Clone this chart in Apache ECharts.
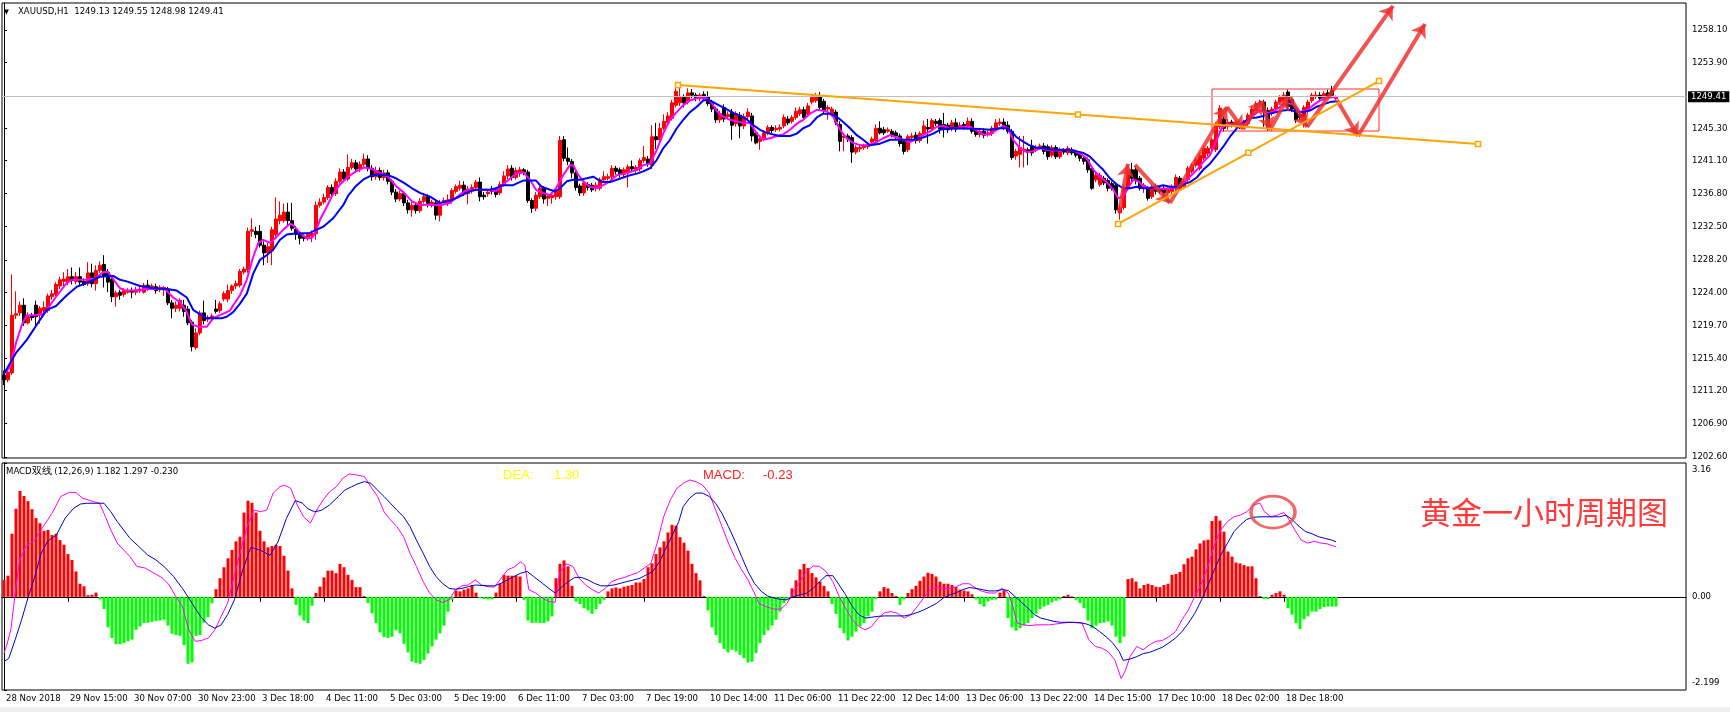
<!DOCTYPE html>
<html>
<head>
<meta charset="utf-8">
<title>XAUUSD H1</title>
<script src="https://cdn.jsdelivr.net/npm/echarts@6/dist/echarts.min.js"></script>
<style>
html, body { margin: 0; padding: 0; background: #fff; }
#chart { width: 1730px; height: 712px; }
</style>
</head>
<body>
<div id="chart"></div>
<script>
// time labels, one every 16 hourly bars
const tickLabels = ['28 Nov 2018', '29 Nov 15:00', '30 Nov 07:00', '30 Nov 23:00', '3 Dec 18:00', '4 Dec 11:00',
  '5 Dec 03:00', '5 Dec 19:00', '6 Dec 11:00', '7 Dec 03:00', '7 Dec 19:00', '10 Dec 14:00', '11 Dec 06:00',
  '11 Dec 22:00', '12 Dec 14:00', '13 Dec 06:00', '13 Dec 22:00', '14 Dec 15:00', '17 Dec 10:00', '18 Dec 02:00',
  '18 Dec 18:00']
const labelStep = 16
const slotCount = 421 // bars plus the empty shift area on the right

// [open, high, low, close]
const candles = [
  [1213.2,1213.8,1211.9,1212.6],[1212.6,1214.0,1212.3,1213.6],[1213.5,1226.3,1213.2,1221.0],[1221.0,1224.1,1220.5,1221.2],
  [1221.3,1222.8,1220.9,1222.3],[1222.3,1223.2,1219.6,1220.0],[1220.0,1221.4,1219.8,1220.8],[1220.9,1221.3,1220.3,1220.7],
  [1222.3,1222.9,1219.5,1220.8],[1221.0,1222.2,1219.9,1221.9],[1221.6,1222.8,1220.9,1222.0],[1221.6,1223.8,1221.3,1223.5],
  [1223.4,1224.3,1223.0,1223.8],[1223.7,1225.3,1223.5,1225.0],[1224.8,1226.0,1224.4,1225.6],[1225.4,1226.6,1224.8,1225.7],
  [1225.3,1227.0,1224.9,1226.0],[1226.0,1227.2,1225.0,1225.5],[1225.4,1226.6,1225.0,1226.0],[1226.0,1227.2,1224.9,1225.3],
  [1225.4,1225.8,1224.8,1225.0],[1225.1,1227.9,1224.8,1226.5],[1226.5,1227.7,1224.6,1225.1],[1225.1,1227.5,1224.2,1226.8],
  [1226.8,1228.0,1226.5,1227.5],[1227.6,1228.8,1224.6,1226.1],[1226.6,1227.0,1224.0,1225.3],[1225.7,1226.0,1222.7,1223.4],
  [1223.4,1224.2,1222.1,1223.9],[1224.0,1224.3,1223.0,1223.6],[1223.7,1224.5,1223.4,1224.2],[1224.0,1224.5,1223.8,1224.2],
  [1224.2,1224.6,1223.2,1224.0],[1224.0,1224.7,1223.6,1224.3],[1224.2,1224.7,1223.9,1224.4],[1224.0,1225.2,1223.8,1224.9],
  [1224.9,1225.6,1224.2,1224.5],[1224.6,1225.1,1224.3,1224.8],[1224.7,1225.1,1223.8,1224.2],[1224.3,1224.9,1224.0,1224.6],
  [1224.3,1224.8,1223.5,1224.6],[1224.4,1224.7,1222.3,1222.6],[1222.6,1223.0,1220.6,1221.9],[1221.9,1222.8,1221.4,1222.3],
  [1221.9,1223.2,1221.5,1222.9],[1222.3,1223.0,1220.8,1221.5],[1221.8,1222.2,1219.7,1220.0],[1220.1,1220.4,1216.3,1216.9],
  [1216.8,1219.3,1216.5,1218.7],[1218.7,1221.6,1218.4,1221.3],[1221.3,1222.9,1219.8,1220.3],[1220.5,1221.0,1220.1,1220.7],
  [1220.6,1221.2,1220.3,1220.9],[1221.8,1223.0,1221.2,1221.5],[1221.6,1222.8,1221.3,1222.5],[1223.1,1224.1,1222.8,1223.8],
  [1223.1,1225.0,1222.7,1224.2],[1224.2,1225.0,1223.8,1224.8],[1224.8,1225.5,1224.4,1225.1],[1224.9,1227.0,1224.6,1226.7],
  [1226.6,1227.3,1226.3,1227.0],[1226.9,1232.4,1226.5,1231.9],[1231.9,1233.6,1231.2,1232.1],[1231.9,1232.5,1231.0,1231.5],
  [1231.9,1232.7,1229.8,1230.1],[1230.1,1230.6,1227.5,1229.1],[1229.1,1230.4,1227.8,1229.9],[1229.4,1232.5,1227.5,1232.1],
  [1231.5,1236.3,1231.2,1233.5],[1233.3,1235.8,1232.8,1234.0],[1233.3,1235.5,1233.0,1234.4],[1234.4,1235.6,1232.6,1233.3],
  [1233.3,1235.6,1232.0,1232.3],[1232.2,1232.6,1230.8,1231.5],[1231.5,1231.8,1230.2,1231.0],[1231.2,1231.5,1230.6,1231.0],
  [1231.0,1231.8,1230.7,1231.5],[1231.3,1232.0,1230.5,1231.6],[1231.6,1235.8,1230.8,1235.3],[1235.3,1236.2,1235.0,1235.7],
  [1235.7,1236.8,1235.4,1236.3],[1236.3,1237.9,1236.0,1237.6],[1237.6,1238.0,1236.4,1236.8],[1236.8,1238.8,1236.5,1238.4],
  [1238.4,1240.1,1238.1,1239.6],[1239.6,1240.0,1238.3,1238.7],[1238.7,1241.9,1238.4,1240.2],[1240.2,1241.3,1239.9,1240.8],
  [1240.8,1241.2,1239.5,1240.0],[1240.0,1241.0,1239.6,1240.6],[1240.6,1242.0,1240.3,1241.3],[1241.3,1241.8,1239.7,1240.1],
  [1240.1,1240.5,1238.5,1239.0],[1239.0,1240.3,1238.6,1239.8],[1239.8,1240.2,1238.5,1238.9],[1238.9,1239.9,1238.5,1239.5],
  [1239.5,1239.9,1238.0,1238.4],[1238.4,1238.7,1236.6,1237.0],[1237.0,1237.4,1235.7,1236.1],[1236.1,1237.2,1235.8,1236.8],
  [1236.8,1237.1,1235.2,1235.6],[1235.6,1236.0,1234.2,1234.7],[1234.7,1235.7,1233.8,1235.3],[1235.3,1235.7,1234.2,1234.6],
  [1234.6,1236.2,1234.3,1235.8],[1235.8,1236.9,1235.5,1236.4],[1236.4,1236.7,1235.0,1235.5],[1235.3,1236.0,1235.0,1235.7],
  [1235.6,1236.0,1233.4,1234.0],[1234.0,1236.0,1233.2,1235.6],[1235.6,1236.3,1235.3,1235.9],[1235.5,1236.7,1235.2,1236.0],
  [1235.9,1237.5,1235.5,1237.2],[1237.1,1238.0,1236.8,1237.7],[1237.5,1238.5,1237.2,1237.9],[1237.9,1238.4,1236.5,1236.8],
  [1236.8,1237.8,1235.4,1237.4],[1237.2,1238.0,1236.8,1237.6],[1237.6,1238.6,1237.3,1238.3],[1238.3,1238.9,1235.8,1236.4],
  [1236.6,1237.0,1236.0,1236.4],[1236.8,1237.3,1236.4,1237.0],[1237.4,1237.8,1236.7,1237.1],[1237.3,1237.6,1236.3,1236.7],
  [1236.9,1238.4,1236.6,1238.0],[1238.0,1239.7,1237.7,1239.1],[1239.1,1240.5,1238.7,1240.0],[1240.1,1240.5,1238.5,1238.9],
  [1238.9,1240.2,1238.6,1239.8],[1239.4,1240.3,1239.0,1239.9],[1239.9,1240.1,1239.2,1239.6],[1239.6,1239.9,1235.6,1235.9],
  [1235.9,1236.2,1234.3,1234.9],[1234.9,1237.0,1234.5,1236.6],[1236.4,1237.8,1236.1,1237.5],[1237.5,1237.8,1235.5,1236.1],
  [1236.2,1236.8,1235.2,1236.5],[1236.3,1237.0,1235.5,1236.6],[1236.4,1237.4,1236.0,1237.1],[1236.4,1244.3,1236.1,1243.7],
  [1243.8,1244.3,1241.0,1241.4],[1241.4,1242.8,1240.5,1241.0],[1241.0,1241.3,1238.8,1239.5],[1239.5,1239.9,1237.2,1237.6],
  [1237.8,1238.1,1236.5,1236.9],[1236.9,1238.5,1236.5,1238.2],[1238.0,1238.3,1237.2,1237.6],[1237.9,1238.2,1237.0,1237.3],
  [1237.5,1238.3,1237.1,1237.9],[1237.5,1238.9,1237.2,1238.6],[1238.6,1239.7,1238.3,1239.0],[1238.8,1239.4,1238.5,1239.0],
  [1239.0,1240.5,1238.7,1240.1],[1240.1,1240.4,1239.3,1239.7],[1239.9,1240.2,1238.9,1239.3],[1239.3,1240.2,1238.9,1239.9],
  [1239.5,1240.6,1237.6,1240.3],[1240.3,1241.1,1239.7,1240.0],[1239.8,1240.5,1239.5,1240.2],[1240.0,1241.4,1239.7,1241.1],
  [1241.1,1243.0,1240.8,1241.5],[1241.3,1241.7,1240.3,1240.7],[1240.5,1245.7,1240.0,1244.2],[1244.2,1246.0,1242.6,1243.8],
  [1243.8,1246.0,1243.5,1245.3],[1245.3,1247.1,1245.0,1246.2],[1246.0,1247.4,1245.7,1246.9],[1246.6,1249.0,1246.3,1248.6],
  [1248.3,1250.5,1248.0,1250.1],[1248.6,1251.3,1248.2,1249.3],[1249.3,1249.7,1248.0,1248.6],[1248.8,1250.5,1248.4,1249.9],
  [1249.9,1250.4,1249.2,1249.6],[1249.6,1249.9,1248.8,1249.2],[1249.2,1249.9,1248.8,1249.6],[1249.7,1250.1,1248.9,1249.3],
  [1249.4,1250.1,1248.2,1248.5],[1248.6,1249.0,1247.4,1247.8],[1247.8,1248.1,1246.0,1246.4],[1246.4,1247.6,1246.0,1247.2],
  [1248.0,1248.4,1246.1,1246.5],[1246.8,1247.5,1246.4,1247.1],[1247.4,1247.8,1243.8,1245.7],[1245.9,1247.5,1245.5,1247.2],
  [1247.0,1247.4,1244.0,1245.6],[1245.6,1247.2,1245.2,1246.8],[1246.8,1247.9,1246.5,1247.4],[1246.9,1247.3,1243.6,1244.3],
  [1244.7,1245.0,1243.2,1243.4],[1243.6,1244.2,1242.5,1243.9],[1243.9,1245.0,1243.6,1244.7],[1244.7,1245.7,1244.4,1245.4],
  [1245.4,1245.7,1244.7,1245.0],[1245.1,1245.7,1244.8,1245.3],[1245.2,1245.8,1244.9,1245.4],[1245.6,1247.1,1245.3,1246.7],
  [1246.5,1246.9,1245.7,1246.0],[1246.2,1247.0,1245.9,1246.7],[1246.7,1248.0,1246.4,1247.5],[1247.2,1248.1,1246.9,1247.7],
  [1247.7,1248.1,1246.4,1246.7],[1247.1,1248.6,1246.8,1248.2],[1248.7,1249.7,1248.4,1249.3],[1248.9,1249.9,1248.6,1249.4],
  [1249.4,1250.0,1247.6,1248.0],[1248.8,1249.1,1247.2,1247.6],[1247.8,1248.3,1246.4,1248.0],[1247.2,1248.1,1246.9,1247.8],
  [1247.4,1247.7,1245.7,1246.1],[1245.8,1246.2,1242.3,1243.6],[1244.1,1244.6,1242.3,1244.3],[1244.3,1244.6,1243.5,1243.9],
  [1244.1,1244.4,1240.8,1242.2],[1242.2,1243.1,1241.9,1242.8],[1242.6,1243.1,1242.2,1242.8],[1242.8,1243.3,1242.5,1243.0],
  [1242.9,1243.5,1242.6,1243.2],[1243.5,1244.2,1243.2,1243.9],[1243.7,1245.8,1243.4,1245.3],[1245.3,1246.2,1244.5,1244.7],
  [1245.1,1245.5,1244.4,1244.7],[1244.9,1245.4,1244.7,1245.1],[1244.9,1245.2,1244.1,1244.4],[1244.7,1245.0,1243.9,1244.3],
  [1244.3,1244.6,1242.9,1243.3],[1243.6,1243.9,1241.9,1242.3],[1242.5,1244.5,1242.2,1244.2],[1244.1,1244.7,1243.8,1244.3],
  [1244.4,1244.8,1243.3,1243.7],[1243.7,1244.9,1243.4,1244.6],[1244.6,1246.3,1244.3,1245.6],[1245.4,1246.5,1243.3,1245.2],
  [1245.2,1246.6,1244.9,1246.3],[1246.2,1246.5,1245.6,1245.9],[1246.3,1246.6,1244.6,1245.2],[1245.8,1247.3,1244.1,1245.2],
  [1245.7,1246.0,1244.7,1245.1],[1245.2,1246.4,1244.9,1246.0],[1246.0,1246.6,1244.8,1245.2],[1245.5,1246.1,1245.2,1245.7],
  [1245.8,1246.1,1245.1,1245.4],[1245.6,1246.7,1245.3,1246.2],[1246.2,1246.6,1244.6,1244.9],[1245.0,1245.3,1244.2,1244.5],
  [1244.5,1245.2,1244.1,1244.9],[1244.9,1245.3,1244.0,1244.4],[1244.5,1245.0,1244.2,1244.7],[1244.6,1245.6,1244.3,1245.3],
  [1245.3,1246.5,1245.0,1246.0],[1245.9,1246.6,1245.6,1246.1],[1246.1,1246.6,1245.1,1245.5],[1245.7,1246.2,1244.6,1244.9],
  [1244.9,1245.2,1241.2,1241.5],[1241.7,1242.6,1241.2,1242.3],[1241.9,1244.3,1240.2,1242.8],[1242.4,1244.3,1240.2,1242.6],
  [1242.5,1242.8,1240.5,1242.3],[1243.0,1243.8,1241.7,1242.1],[1242.5,1243.1,1242.2,1242.8],[1242.8,1243.3,1242.5,1243.0],
  [1243.0,1243.4,1241.9,1242.3],[1242.9,1243.2,1241.2,1241.6],[1241.8,1243.1,1241.5,1242.8],[1242.8,1243.1,1241.3,1241.6],
  [1241.6,1242.8,1241.3,1242.5],[1242.4,1242.7,1241.9,1242.2],[1242.1,1243.0,1241.8,1242.7],[1242.5,1242.8,1241.8,1242.1],
  [1242.2,1242.5,1241.5,1241.8],[1242.0,1242.3,1241.0,1241.4],[1241.4,1241.7,1240.6,1241.0],[1241.2,1241.5,1239.5,1239.9],
  [1240.1,1240.4,1237.3,1237.5],[1238.6,1239.5,1238.3,1239.2],[1238.0,1239.5,1237.7,1239.2],[1238.8,1239.1,1237.9,1238.2],
  [1238.5,1238.8,1237.1,1237.5],[1238.1,1238.4,1237.2,1237.5],[1237.9,1238.2,1234.2,1234.7],[1234.3,1235.4,1233.4,1235.0],
  [1235.0,1238.0,1234.7,1237.6],[1237.5,1240.3,1237.2,1239.9],[1239.9,1240.8,1238.4,1238.8],[1239.9,1240.4,1238.0,1238.6],
  [1238.8,1239.1,1237.2,1237.5],[1237.7,1238.2,1236.9,1237.9],[1237.5,1237.8,1235.9,1236.2],[1236.4,1238.0,1236.1,1237.7],
  [1237.8,1238.1,1236.7,1237.1],[1237.5,1237.8,1236.8,1237.1],[1237.5,1237.8,1236.5,1236.9],[1236.9,1237.6,1236.6,1237.3],
  [1237.1,1238.0,1236.7,1237.7],[1237.5,1239.3,1237.2,1238.9],[1238.8,1239.1,1237.2,1237.5],[1237.7,1238.7,1237.4,1238.4],
  [1238.6,1240.4,1238.3,1240.1],[1239.7,1240.8,1239.4,1240.5],[1240.5,1241.5,1240.2,1241.2],[1240.1,1242.1,1239.8,1241.8],
  [1241.4,1243.1,1241.1,1242.7],[1242.0,1243.0,1241.7,1242.7],[1242.7,1244.1,1242.4,1243.8],[1242.5,1246.1,1242.2,1245.7],
  [1245.5,1248.3,1245.2,1247.9],[1246.5,1246.8,1244.9,1245.3],[1245.5,1246.5,1245.1,1246.1],[1246.1,1246.4,1245.4,1245.7],
  [1245.7,1246.4,1245.4,1246.1],[1245.9,1246.2,1245.2,1245.5],[1245.5,1246.4,1245.2,1246.1],[1245.9,1247.3,1245.6,1247.0],
  [1247.0,1248.1,1246.7,1247.8],[1247.6,1248.8,1247.3,1248.5],[1248.3,1249.0,1248.0,1248.7],[1248.7,1249.0,1245.5,1247.4],
  [1247.6,1248.0,1245.0,1245.4],[1247.2,1248.1,1246.9,1247.8],[1247.8,1249.0,1247.5,1248.7],[1248.7,1249.6,1248.4,1249.3],
  [1248.9,1250.0,1248.6,1249.6],[1250.0,1250.3,1247.7,1248.1],[1249.0,1249.3,1247.4,1247.8],[1247.9,1248.2,1246.0,1246.4],
  [1247.1,1247.4,1246.3,1246.7],[1245.9,1248.3,1245.4,1248.0],[1247.6,1249.0,1247.2,1248.7],[1248.9,1249.9,1248.6,1249.6],
  [1249.4,1250.1,1249.1,1249.6],[1249.6,1250.0,1248.9,1249.2],[1249.2,1250.1,1248.9,1249.8],[1249.9,1250.3,1249.1,1249.4],
  [1250.2,1250.8,1249.2,1249.6],[1249.13,1249.55,1248.98,1249.41]
]

// moving averages on the price pane, [bar, price]
const maFast = [
  [0,1213.5],[1.5,1214.2],[3,1217.4],[4.5,1219.8],[5.7,1221.0],[8,1221.0],[10,1221.2],[10.7,1221.7],[13,1223.4],
  [15.7,1225.2],[17,1225.6],[20.7,1225.6],[23,1225.8],[24.8,1226.6],[26,1226.6],[27.3,1225.7],[29,1224.5],[30.5,1224.2],
  [34,1224.2],[35,1224.4],[38,1224.4],[40,1224.5],[42.3,1223.3],[44,1222.7],[45.7,1221.4],[47,1219.8],[48.6,1219.5],
  [50.7,1219.5],[52.3,1220.6],[54,1221.0],[56.5,1221.6],[57.3,1222.3],[59,1223.6],[60.7,1225.6],[62.3,1228.6],
  [63.6,1230.4],[64.8,1230.8],[66.5,1230.4],[68,1231.1],[69.8,1232.1],[71.5,1232.9],[72.3,1232.7],[74,1231.7],
  [75.7,1231.0],[76.9,1231.0],[77.8,1231.7],[79,1233.4],[80.7,1235.1],[82,1236.5],[84,1238.0],[86,1239.0],[88,1239.7],
  [90,1240.2],[92,1240.0],[94,1239.5],[96,1239.0],[98,1237.8],[100,1236.9],[102,1235.8],[104,1235.3],[106.5,1235.4],
  [109,1235.3],[111.5,1235.6],[113.8,1236.6],[115.7,1237.3],[118,1237.3],[120.7,1237.3],[123,1237.1],[125.7,1238.4],
  [128,1239.4],[129.8,1239.6],[131.5,1238.6],[133,1237.3],[134.8,1236.9],[136.5,1236.6],[138,1237.5],[139.8,1239.2],
  [141.5,1240.5],[142.3,1240.5],[143.6,1239.2],[144.8,1238.4],[146.5,1237.7],[148.2,1237.5],[149.8,1237.9],[151.5,1238.4],
  [153.2,1239.2],[154.8,1239.4],[156.5,1239.6],[158.2,1239.9],[159.8,1240.5],[161.5,1240.7],[163.2,1242.5],[164.8,1244.6],
  [166.5,1246.4],[168.2,1247.4],[169.8,1248.3],[171.5,1248.9],[173.2,1249.2],[175.7,1249.2],[176.9,1248.6],[178.2,1247.5],
  [179.8,1246.8],[181.5,1246.4],[183.2,1246.2],[184.8,1246.0],[186.5,1246.0],[188.2,1244.6],[189.8,1243.8],[191.5,1244.0],
  [193.2,1244.3],[194.8,1244.5],[196.5,1245.1],[198.2,1245.9],[199.8,1246.4],[201.5,1247.2],[203.2,1247.7],[204.4,1247.6],
  [205.7,1247.5],[207.3,1246.8],[209,1245.1],[210.7,1244.0],[212.3,1243.4],[214,1243.1],[215.7,1243.1],[217.3,1243.3],
  [218.2,1243.5],[219.8,1244.0],[221.5,1244.4],[223.2,1244.1],[224.8,1243.8],[226.5,1243.5],[228.2,1243.9],[229.8,1244.4],
  [231.5,1244.9],[233.2,1245.5],[234.8,1245.6],[236.5,1245.3],[238.2,1245.3],[239.8,1245.5],[241.5,1245.5],[243.2,1245.0],
  [244.8,1244.5],[246.5,1244.5],[248.2,1245.1],[249.8,1245.6],[251,1245.3],[252.3,1243.8],[254,1242.7],[255.7,1242.2],
  [257.3,1242.3],[259,1242.7],[260.7,1242.5],[262.3,1242.4],[264,1242.4],[265.7,1242.5],[267.3,1242.4],[269,1242.0],
  [270.7,1241.4],[272.3,1239.9],[274,1239.0],[275.7,1238.3],[277.3,1237.3],[278.6,1236.2],[279.8,1236.4],[281,1237.5],
  [282.3,1238.6],[283.6,1238.4],[284.8,1237.8],[286.5,1237.5],[288.2,1237.5],[289.8,1237.4],[291.5,1237.5],[293.2,1237.7],
  [294.8,1238.1],[296.5,1239.0],[298.2,1239.9],[299.8,1240.9],[301.5,1241.8],[303.2,1243.8],[304.4,1245.3],[305.7,1245.9],
  [307.3,1245.7],[309,1245.5],[310.7,1246.1],[312.3,1247.0],[314,1247.6],[315.7,1247.3],[317.3,1247.4],[319,1248.1],
  [320.7,1248.6],[322.3,1248.4],[324,1247.4],[325.7,1247.6],[327.3,1248.3],[329,1248.9],[330.7,1249.2],[332.3,1249.4],
  [333.5,1249.3]
]
const maSlow = [
  [0,1213.4],[1,1214.3],[3,1216.1],[5.7,1217.8],[9,1220.4],[10.7,1221.7],[13,1222.2],[15.7,1223.6],[18.2,1224.7],
  [20.7,1225.2],[24,1226.0],[27.3,1226.1],[29,1225.6],[30.7,1225.4],[34,1224.8],[37.3,1224.5],[40.7,1224.4],[43.2,1224.2],
  [45.7,1223.3],[47.3,1221.7],[49,1221.1],[50.7,1220.6],[54.4,1220.6],[55.7,1220.8],[57.3,1221.4],[59,1222.5],[60.7,1223.8],
  [62.3,1226.4],[64,1228.2],[65.7,1228.8],[67.3,1229.5],[69,1230.8],[70.7,1231.5],[72.3,1231.6],[76.5,1231.7],[78,1232.1],
  [79.8,1232.5],[82.3,1233.6],[84.8,1235.3],[86,1236.5],[88,1237.8],[90,1238.7],[92,1239.2],[94,1239.3],[96,1239.2],
  [98,1238.8],[100,1238.2],[102,1237.5],[104,1236.9],[106.5,1236.4],[109,1235.6],[111.5,1235.9],[113.8,1236.4],
  [116.5,1237.1],[118.2,1237.3],[121.5,1237.3],[123,1237.5],[124.8,1237.9],[127.3,1237.9],[128.5,1238.2],[129.8,1238.5],
  [133,1238.5],[134.4,1237.7],[136.5,1237.3],[137.8,1237.1],[139,1237.5],[140.7,1238.4],[142.3,1238.6],[144,1238.6],
  [145.7,1238.8],[147.3,1239.0],[148.6,1238.6],[149.8,1238.3],[151.5,1238.3],[153.2,1238.6],[154.8,1238.9],[156.5,1239.2],
  [158.2,1239.4],[159.8,1239.7],[161.5,1240.1],[163.2,1241.2],[164.8,1242.7],[166.5,1243.8],[168.2,1245.3],[169.8,1246.4],
  [171.5,1247.4],[173.2,1248.1],[174.8,1248.9],[176.1,1249.0],[177.3,1248.7],[179,1248.2],[180.6,1247.8],[182.3,1247.3],
  [184,1246.9],[185.6,1246.5],[187.3,1245.7],[189,1245.1],[190.7,1244.7],[192.3,1244.5],[194,1244.3],[196.5,1244.3],
  [198.2,1244.6],[199.8,1245.3],[201.5,1245.7],[203.2,1246.7],[204.8,1247.2],[206.5,1247.2],[208.2,1246.8],[209.8,1246.1],
  [211.5,1245.3],[213.2,1244.4],[214.8,1243.8],[216.5,1243.1],[219,1243.3],[221.5,1243.8],[224.8,1243.8],[227.3,1243.8],
  [229.8,1244.1],[232.3,1244.6],[234,1245.1],[236.5,1245.3],[244,1245.2],[246.5,1245.1],[249,1245.3],[250.7,1245.3],
  [251.9,1244.9],[253,1244.2],[254.7,1243.6],[256.3,1243.1],[258,1242.8],[259.7,1242.7],[262.2,1242.5],[264.7,1242.5],
  [267.3,1242.4],[269.8,1242.1],[271.5,1241.6],[273.2,1240.7],[274.8,1239.9],[276.5,1238.8],[278.2,1238.0],[279.8,1237.5],
  [281.5,1237.5],[283.2,1237.7],[284.8,1237.5],[286.5,1237.5],[288.2,1237.7],[289.8,1237.9],[291.5,1237.7],[293.2,1237.7],
  [294.8,1238.0],[296.5,1238.3],[298.2,1238.9],[299.8,1239.9],[301.5,1240.7],[303.2,1241.8],[304.8,1242.9],[306.5,1244.2],
  [308.2,1245.3],[309.8,1246.1],[311.5,1246.6],[313.2,1246.7],[314.8,1246.9],[316.5,1247.2],[318.2,1247.4],[319.8,1247.6],
  [321.5,1247.7],[323.2,1247.4],[324.8,1247.4],[326.5,1247.6],[328.2,1248.1],[329.8,1248.4],[331.5,1248.7],[333.2,1248.8]
]

// MACD pane: histogram per bar, DIF / DEA lines as [bar, value]
const macdHist = [
  0.40,0.50,1.49,2.08,2.50,2.38,2.26,2.07,1.86,1.74, 1.56,1.58,1.46,1.49,1.34,1.23,1.01,0.87,0.60,0.31,
  0.25,0.04,0.05,0.10,-0.06,-0.29,-0.72,-0.97,-1.12,-1.12, -1.09,-1.05,-1.01,-0.78,-0.70,-0.62,-0.61,-0.59,-0.57,-0.56,
  -0.54,-0.68,-0.87,-0.90,-0.92,-1.14,-1.58,-1.55,-0.92,-0.90, -0.61,-0.48,-0.15,0.18,0.44,0.70,0.91,1.11,1.31,1.42,
  1.99,2.27,2.22,1.99,1.56,1.31,1.17,1.20,1.23,1.20, 0.97,0.62,0.20,-0.19,-0.44,-0.56,-0.62,-0.21,0.09,0.24,
  0.46,0.62,0.62,0.56,0.78,0.70,0.52,0.40,0.23,0.23, 0.02,-0.15,-0.39,-0.62,-0.84,-0.95,-0.97,-0.94,-0.79,-0.86,
  -1.11,-1.31,-1.53,-1.56,-1.58,-1.49,-1.34,-1.17,-1.01,-0.86, -0.68,-0.35,-0.07,0.15,0.13,0.17,0.20,0.28,0.10,-0.03,
  -0.05,-0.06,-0.06,0.10,0.31,0.52,0.50,0.50,0.50,0.48, -0.07,-0.56,-0.62,-0.61,-0.62,-0.62,-0.58,-0.46,0.44,0.78,
  0.86,0.72,0.26,-0.11,-0.17,-0.27,-0.32,-0.40,-0.29,-0.17, -0.07,0.13,0.20,0.22,0.20,0.24,0.26,0.28,0.34,0.34,
  0.42,0.70,0.79,1.01,1.17,1.31,1.52,1.70,1.68,1.41, 1.28,1.09,0.78,0.56,0.39,0.02,-0.32,-0.72,-0.90,-1.09,
  -1.23,-1.31,-1.25,-1.29,-1.37,-1.45,-1.55,-1.53,-1.33,-1.09, -0.90,-0.79,-0.68,-0.54,-0.35,-0.15,-0.05,0.20,0.39,0.65,
  0.78,0.68,0.56,0.46,0.36,0.26,0.13,-0.17,-0.40,-0.74, -0.86,-1.03,-0.94,-0.82,-0.70,-0.62,-0.46,-0.35,-0.05,0.13,
  0.23,0.20,0.09,0.02,-0.19,-0.06,0.09,0.18,0.26,0.38, 0.48,0.57,0.54,0.48,0.36,0.31,0.31,0.28,0.23,0.17,
  0.15,0.13,0.06,-0.06,-0.17,-0.23,-0.11,-0.07,-0.06,0.10, 0.15,-0.50,-0.72,-0.80,-0.74,-0.68,-0.62,-0.50,-0.40,-0.29,
  -0.23,-0.19,-0.13,-0.09,-0.06,0.02,0.05,0.01,-0.07,-0.15, -0.27,-0.56,-0.74,-0.68,-0.62,-0.61,-0.58,-0.68,-0.94,-1.09,
  -0.94,0.42,0.44,0.36,0.20,0.28,0.31,0.28,0.24,0.23, 0.28,0.31,0.52,0.54,0.59,0.77,0.91,0.95,1.12,1.26,
  1.33,1.35,1.79,1.91,1.80,1.54,1.07,0.95,0.81,0.79, 0.75,0.72,0.72,0.44,0.02,-0.05,-0.05,0.05,0.09,0.13,
  0.05,-0.27,-0.42,-0.62,-0.76,-0.53,-0.46,-0.35,-0.35,-0.29, -0.24,-0.23,-0.23,-0.23
]
const difLine = [
  [0,-1.33],[0.6,-1.17],[1.7,-0.78],[2.8,0.09],[3.9,0.87],[5.5,1.19],[7.7,1.34],[9.8,1.66],[12,1.97],[14.2,2.37],
  [16.4,2.47],[18,2.46],[19.6,2.33],[20.7,2.30],[22.3,2.25],[23.9,2.21],[25,1.97],[26.7,1.58],[28.3,1.27],[29.9,1.11],
  [31.5,0.95],[33.2,0.72],[35.3,0.68],[37.5,0.56],[39.7,0.44],[41.3,0.28],[42.9,0.01],[44.6,-0.23],[46.2,-0.78],
  [47.8,-1.05],[49.4,-1.03],[51.1,-0.97],[52.7,-0.78],[54.3,-0.46],[55.9,-0.15],[57.6,0.52],[59.2,1.11],[60.8,1.66],
  [62.5,2.05],[64.1,2.01],[65.7,2.05],[67.3,2.45],[69,2.60],[70,2.64],[71.7,2.56],[73.3,2.17],[74.9,1.89],[76.6,1.74],
  [78.2,2.05],[79.8,2.29],[81.4,2.48],[83.1,2.60],[84.7,2.80],[86.3,2.90],[88,2.88],[90.1,2.84],[91.7,2.60],[93.4,2.37],
  [95,2.01],[96.6,1.82],[98.2,1.66],[99.9,1.42],[101.5,1.03],[103.1,0.72],[104.8,0.36],[106.4,0.09],[108,-0.07],
  [109.6,-0.13],[111.3,-0.07],[112.9,0.17],[114.5,0.26],[116.1,0.28],[117.8,0.40],[119.4,0.28],[121,0.24],[122.6,0.23],
  [124.3,0.44],[125.9,0.64],[127.5,0.70],[129.2,0.83],[130.2,0.75],[131.2,0.17],[132.9,0.09],[134.6,-0.03],[136.2,-0.11],
  [137.8,-0.13],[138.9,0.56],[140.5,0.78],[142.2,0.72],[143.8,0.44],[145.4,0.28],[147.1,0.17],[148.7,0.09],[150.3,0.20],
  [151.9,0.36],[153.6,0.42],[155.2,0.46],[156.8,0.52],[158.4,0.57],[160.1,0.68],[161.7,0.79],[163.3,1.27],[164.9,1.89],
  [166.6,2.29],[168.2,2.56],[169.8,2.68],[171.4,2.76],[173,2.72],[174.6,2.64],[176.3,2.45],[177.9,2.05],[179.5,1.66],
  [181.1,1.27],[182.8,0.91],[184.4,0.64],[186,0.40],[187.6,0.09],[188.7,-0.15],[190.4,-0.23],[192.5,-0.29],[194.2,-0.29],
  [195.8,-0.15],[197.4,0.13],[199,0.36],[200.7,0.60],[202.3,0.73],[203.9,0.72],[205.5,0.60],[207.2,0.36],[208.8,0.01],
  [210.4,-0.27],[212.1,-0.54],[213.7,-0.70],[215.3,-0.78],[216.9,-0.70],[218.6,-0.50],[220.2,-0.37],[221.8,-0.35],
  [223.4,-0.39],[225.1,-0.50],[226.7,-0.42],[228.3,-0.23],[229.9,-0.03],[231.6,0.17],[233.2,0.23],[234.8,0.20],
  [236.5,0.20],[238.1,0.24],[239.7,0.31],[241.3,0.31],[243,0.20],[244.6,0.13],[246.2,0.09],[247.8,0.09],[249.5,0.20],
  [251.1,0.09],[252.2,-0.23],[253.3,-0.62],[254.9,-0.66],[256.5,-0.68],[258.1,-0.66],[261.4,-0.66],[263,-0.64],
  [264.7,-0.62],[266.3,-0.60],[267.9,-0.61],[269.5,-0.62],[271.2,-1.01],[272.8,-1.17],[274.4,-1.21],[276,-1.29],
  [277.7,-1.49],[279.3,-1.93],[280.4,-1.73],[281.5,-1.41],[283.2,-1.17],[284.8,-1.25],[286.4,-1.13],[288,-1.05],
  [289.6,-1.03],[291.2,-0.94],[292.9,-0.82],[294.5,-0.54],[296.1,-0.31],[297.7,0.01],[299.4,0.32],[301,0.72],[302.6,1.23],
  [304.2,1.58],[305.9,1.78],[307.5,1.89],[309.1,1.93],[310.7,2.01],[312.4,2.17],[314,2.21],[315.1,2.01],[316.7,1.89],
  [318.3,1.93],[320,1.99],[321,1.86],[322.7,1.58],[324.3,1.34],[325.9,1.27],[327.6,1.31],[329.2,1.27],[330.8,1.25],
  [332.4,1.20],[333,1.18]
]
const deaLine = [
  [0,-1.53],[1.2,-1.45],[2.8,-1.01],[4.4,-0.54],[6.1,0.01],[7.7,0.48],[9.3,1.03],[10.9,1.31],[13.1,1.46],[15.3,1.86],
  [17.4,2.09],[19.1,2.19],[20.7,2.21],[25,2.21],[26.7,2.01],[28.3,1.78],[29.9,1.58],[31.5,1.38],[33.7,1.19],[35.9,0.99],
  [38,0.87],[40.2,0.70],[42.4,0.48],[44.6,0.20],[46.2,-0.03],[47.8,-0.27],[49.4,-0.50],[51.1,-0.66],[52.7,-0.74],
  [54.3,-0.66],[55.9,-0.42],[57.6,-0.07],[59.7,0.64],[61.7,1.17],[64.1,1.10],[66.5,0.98],[68.5,1.30],[70.6,1.85],
  [72.8,2.27],[74.5,2.22],[76,2.08],[77.6,2.01],[79.3,2.04],[81.4,2.17],[83.6,2.37],[85.2,2.52],[86.9,2.60],[88.5,2.67],
  [90.1,2.72],[91.7,2.68],[93.4,2.52],[95,2.37],[96.6,2.21],[98.2,2.05],[99.9,1.89],[101.5,1.66],[103.1,1.34],
  [104.8,1.03],[106.4,0.72],[108,0.48],[109.6,0.32],[111.3,0.20],[112.9,0.18],[114.5,0.20],[116.1,0.24],[117.8,0.28],
  [121,0.26],[122.6,0.26],[124.3,0.32],[125.9,0.40],[127.5,0.48],[129.2,0.56],[130.8,0.60],[132.4,0.48],[134.6,0.32],
  [136.2,0.20],[137.8,0.09],[139.5,0.24],[141.1,0.36],[142.7,0.46],[144.3,0.46],[146,0.40],[147.6,0.32],[149.2,0.26],
  [150.8,0.26],[152.5,0.28],[154.1,0.32],[155.7,0.36],[157.4,0.40],[159,0.44],[160.6,0.52],[162.2,0.60],[163.9,0.83],
  [165.5,1.15],[167.1,1.46],[168.7,1.78],[169.8,2.13],[171.4,2.33],[173,2.45],[174.6,2.45],[176.3,2.37],[177.9,2.21],
  [179.5,1.97],[181.1,1.66],[182.8,1.31],[184.4,0.95],[186,0.60],[187.6,0.32],[189.3,0.13],[190.9,0.02],[192.5,-0.03],
  [194.2,-0.06],[195.8,-0.07],[197.4,0.01],[199,0.05],[200.7,0.09],[202.3,0.20],[203.9,0.36],[205.5,0.50],[207.2,0.50],
  [208.8,0.28],[210.4,0.05],[212.1,-0.23],[213.7,-0.42],[215.3,-0.50],[216.9,-0.48],[218.6,-0.46],[220.2,-0.45],
  [225.1,-0.45],[226.7,-0.42],[228.3,-0.37],[229.9,-0.31],[231.6,-0.23],[233.2,-0.15],[234.8,-0.03],[236.5,0.05],
  [238.1,0.10],[239.7,0.17],[241.3,0.22],[243,0.20],[244.6,0.17],[246.2,0.14],[247.8,0.14],[249.5,0.17],[251.1,0.15],
  [252.7,0.01],[254.4,-0.13],[256,-0.27],[257.6,-0.42],[259.2,-0.50],[260.9,-0.54],[262.5,-0.58],[264.1,-0.60],
  [267.4,-0.60],[269,-0.61],[270.6,-0.64],[272.2,-0.70],[273.9,-0.82],[275.5,-0.94],[277.1,-1.08],[278.8,-1.29],
  [279.8,-1.50],[281.5,-1.47],[283.2,-1.41],[284.8,-1.34],[286.4,-1.31],[288,-1.25],[289.6,-1.19],[291.2,-1.09],
  [292.9,-0.97],[294.5,-0.82],[296.1,-0.62],[297.7,-0.39],[299.4,-0.07],[301,0.28],[302.6,0.64],[304.2,0.99],[305.9,1.27],
  [307.5,1.54],[309.1,1.70],[310.7,1.83],[312.4,1.88],[314,1.89],[318.9,1.89],[320.5,1.93],[322.1,1.82],[323.8,1.66],
  [325.4,1.54],[327,1.49],[328.6,1.42],[330.3,1.38],[331.9,1.34],[333,1.30]
]

// axis ticks
const priceTicks = [1202.6, 1206.9, 1211.2, 1215.4, 1219.7, 1224.0, 1228.2, 1232.5, 1236.8, 1241.1, 1245.3, 1253.9, 1258.1]
const macdTicks = [-2.199, 0, 3.16]
const lastPrice = 1249.41

// hand drawn objects, [bar, price]
const upperTrend = [[168.5, 1250.92], [268.5, 1247.1], [368.5, 1243.25]]
const lowerTrend = [[278.5, 1232.86], [311.1, 1242.1], [343.75, 1251.44]]
const rangeBox = [[302, 1250.4], [343.75, 1244.94]]
const arrowSegments = [
  [[278.75, 1234.4], [281, 1240.66]],
  [[282.75, 1240.53], [291.5, 1235.59]],
  [[291.5, 1235.59], [305.75, 1248.06]],
  [[305.75, 1248.06], [309.75, 1245.2]],
  [[309.75, 1245.2], [314.5, 1248.84]],
  [[314.5, 1248.84], [316.5, 1245.07]],
  [[316.5, 1245.07], [321, 1249.36]],
  [[321.5, 1249.36], [325.75, 1245.46]],
  [[325.75, 1245.46], [347.25, 1261.2]],
  [[333.25, 1248.97], [338.5, 1244.29]],
  [[338.5, 1244.29], [355.25, 1258.85]]
]
const macdCircle = [317.25, 2.0]

const smallFont = "'DejaVu Sans Condensed', 'DejaVu Sans', sans-serif"
const slots = Array.from({ length: slotCount }, (_, i) => String(i))
const showLabel = (idx) => idx % labelStep === 0 && idx / labelStep < tickLabels.length

const chart = echarts.init(document.getElementById('chart'))

const option = {
  animation: false,
  backgroundColor: '#fff',
  grid: [
    { left: 2, top: 3, width: 1684, height: 455, show: true, borderColor: '#000', borderWidth: 1, backgroundColor: '#fff', outerBoundsMode: 'none' },
    { left: 2, top: 463, width: 1684, height: 227, show: true, borderColor: '#000', borderWidth: 1, backgroundColor: '#fff', outerBoundsMode: 'none' }
  ],
  xAxis: [
    { type: 'category', gridIndex: 0, data: slots, axisLine: { show: false }, axisTick: { show: false }, axisLabel: { show: false }, splitLine: { show: false } },
    { type: 'value', gridIndex: 0, min: -0.5, max: slotCount - 0.5, show: false },
    {
      type: 'category', gridIndex: 1, data: slots,
      axisLine: { show: true, lineStyle: { color: '#000' } },
      axisTick: { show: true, alignWithLabel: true, interval: showLabel, length: 5, lineStyle: { color: '#000' } },
      axisLabel: {
        interval: showLabel, align: 'left', margin: 4, padding: [0, 0, 0, 2],
        color: '#000', fontSize: 9.5, fontFamily: smallFont,
        formatter: (v, idx) => tickLabels[idx / labelStep] || ''
      },
      splitLine: { show: false }
    },
    { type: 'value', gridIndex: 1, min: -0.5, max: slotCount - 0.5, show: false }
  ],
  yAxis: [
    {
      type: 'value', gridIndex: 0, position: 'right', min: 1202.44, max: 1261.58, scale: true,
      axisLine: { show: true, lineStyle: { color: '#000' } },
      axisTick: { show: true, length: 3, customValues: priceTicks, lineStyle: { color: '#000' } },
      axisLabel: { customValues: priceTicks, margin: 6, color: '#000', fontSize: 9.5, fontFamily: smallFont, formatter: v => v.toFixed(2) },
      splitLine: { show: false }
    },
    {
      type: 'value', gridIndex: 1, position: 'right', min: -2.199, max: 3.16,
      axisLine: { show: true, lineStyle: { color: '#000' } },
      axisTick: { show: true, length: 3, customValues: macdTicks, lineStyle: { color: '#000' } },
      axisLabel: {
        customValues: macdTicks, margin: 6, color: '#000', fontSize: 9.5, fontFamily: smallFont,
        formatter: v => v > 3 ? '{top|3.16}' : (v < -2 ? '{bot|-2.199}' : '0.00'),
        rich: {
          top: { padding: [14, 0, 0, 0], fontSize: 9.5, fontFamily: smallFont, color: '#000' },
          bot: { padding: [0, 0, 14, 0], fontSize: 9.5, fontFamily: smallFont, color: '#000' }
        }
      },
      splitLine: { show: false }
    }
  ],
  series: [
    {
      name: 'XAUUSD', type: 'candlestick', xAxisIndex: 0, yAxisIndex: 0, barWidth: 3, z: 3,
      data: candles.map(r => [r[0], r[3], r[2], r[1]]),
      itemStyle: { color: '#ff0000', color0: '#000000', borderColor: '#ff0000', borderColor0: '#000000', borderWidth: 1 },
      markLine: {
        silent: true, symbol: 'none', animation: false,
        lineStyle: { color: '#c0c0c0', width: 1, type: 'solid' },
        label: {
          position: 'end', distance: 2, color: '#fff', backgroundColor: '#000', padding: [1, 3, 0, 3],
          fontSize: 9.5, fontFamily: smallFont, formatter: () => lastPrice.toFixed(2)
        },
        data: [{ yAxis: lastPrice }]
      }
    },
    {
      name: 'MA fast', type: 'line', xAxisIndex: 1, yAxisIndex: 0, data: maFast, showSymbol: false, z: 4,
      lineStyle: { color: '#ff00ff', width: 2 }
    },
    {
      name: 'MA slow', type: 'line', xAxisIndex: 1, yAxisIndex: 0, data: maSlow, showSymbol: false, z: 4,
      lineStyle: { color: '#0000ff', width: 2 }
    },
    {
      name: 'upper trend', type: 'line', xAxisIndex: 1, yAxisIndex: 0, data: upperTrend, z: 5,
      symbol: 'rect', symbolSize: 5, showAllSymbol: true,
      itemStyle: { color: '#fff', borderColor: '#ffa500', borderWidth: 1.5 },
      lineStyle: { color: '#ffa500', width: 2 }
    },
    {
      name: 'lower trend', type: 'line', xAxisIndex: 1, yAxisIndex: 0, data: lowerTrend, z: 5,
      symbol: 'rect', symbolSize: 5, showAllSymbol: true,
      itemStyle: { color: '#fff', borderColor: '#ffa500', borderWidth: 1.5 },
      lineStyle: { color: '#ffa500', width: 2 }
    },
    {
      name: 'arrows', type: 'line', xAxisIndex: 1, yAxisIndex: 0, data: [], z: 6,
      markLine: {
        silent: true, animation: false, symbol: ['none', 'arrow'], symbolSize: 13,
        label: { show: false },
        lineStyle: { color: 'rgba(238,45,45,0.82)', width: 4, type: 'solid' },
        data: arrowSegments.map(s => [{ coord: s[0] }, { coord: s[1] }])
      },
      markArea: {
        silent: true,
        itemStyle: { color: 'rgba(0,0,0,0)', borderColor: '#ff3030', borderWidth: 1 },
        data: [[{ coord: rangeBox[0] }, { coord: rangeBox[1] }]]
      }
    },
    {
      name: 'MACD', type: 'bar', xAxisIndex: 2, yAxisIndex: 1, barWidth: 3, data: macdHist,
      itemStyle: { color: p => p.value >= 0 ? '#ff0000' : '#00ff00' }
    },
    {
      name: 'DIF', type: 'line', xAxisIndex: 3, yAxisIndex: 1, data: difLine, showSymbol: false, z: 4,
      lineStyle: { color: '#ff00ff', width: 1 }
    },
    {
      name: 'DEA', type: 'line', xAxisIndex: 3, yAxisIndex: 1, data: deaLine, showSymbol: false, z: 4,
      lineStyle: { color: '#0000c8', width: 1 }
    },
    {
      name: 'circle', type: 'scatter', xAxisIndex: 3, yAxisIndex: 1, data: [macdCircle], z: 6,
      symbol: 'circle', symbolSize: [44, 32], silent: true,
      itemStyle: { color: 'rgba(0,0,0,0)', borderColor: '#e84545', borderWidth: 3 }
    }
  ],
  graphic: [
    { type: 'rect', shape: { x: 0, y: 707, width: 1730, height: 5 }, style: { fill: '#f0f0f0' }, silent: true },
    { type: 'text', x: 4, y: 12, style: { text: '▼', fontSize: 7, fontFamily: smallFont, fill: '#000', verticalAlign: 'middle' } },
    { type: 'text', x: 18, y: 12, style: { text: 'XAUUSD,H1  1249.13 1249.55 1248.98 1249.41', fontSize: 9.5, fontFamily: smallFont, fill: '#000', verticalAlign: 'middle' } },
    { type: 'text', x: 6, y: 472, style: { text: 'MACD双线 (12,26,9) 1.182 1.297 -0.230', fontSize: 9.5, fontFamily: smallFont, fill: '#000', verticalAlign: 'middle' } },
    { type: 'text', x: 503, y: 475, style: { text: 'DEA:', fontSize: 13, fontFamily: 'Liberation Sans, Arial, sans-serif', fill: '#ffff00', verticalAlign: 'middle' } },
    { type: 'text', x: 554, y: 475, style: { text: '1.30', fontSize: 13, fontFamily: 'Liberation Sans, Arial, sans-serif', fill: '#ffff00', verticalAlign: 'middle' } },
    { type: 'text', x: 703, y: 475, style: { text: 'MACD:', fontSize: 13, fontFamily: 'Liberation Sans, Arial, sans-serif', fill: '#ff2020', verticalAlign: 'middle' } },
    { type: 'text', x: 763, y: 475, style: { text: '-0.23', fontSize: 13, fontFamily: 'Liberation Sans, Arial, sans-serif', fill: '#ff2020', verticalAlign: 'middle' } },
    { type: 'text', x: 1420, y: 512, style: { text: '黄金一小时周期图', fontSize: 31, fontFamily: "'Noto Sans CJK SC', sans-serif", fill: '#ff3a3a', verticalAlign: 'middle' } }
  ]
}

chart.setOption(option)
</script>
</body>
</html>
